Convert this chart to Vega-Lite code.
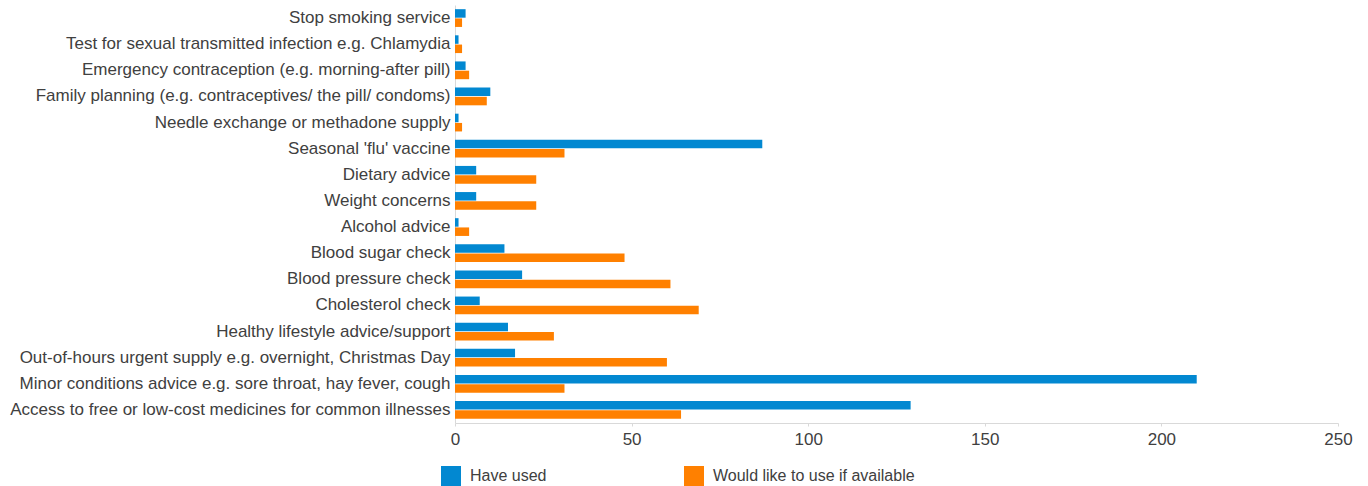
{
  "$schema": "https://vega.github.io/schema/vega-lite/v6.json",
  "width": 883,
  "height": 418,
  "autosize": {"type": "none"},
  "padding": {"left": 455, "top": 5, "right": 30, "bottom": 63},
  "background": "#ffffff",
  "config": {
    "view": {"stroke": null},
    "font": "Liberation Sans",
    "axis": {"labelFont": "Liberation Sans", "labelColor": "#404040", "labelFontSize": 17}
  },
  "data": {
    "values": [
      {"service": "Stop smoking service", "series": "Have used", "value": 3},
      {"service": "Stop smoking service", "series": "Would like to use if available", "value": 2},
      {"service": "Test for sexual transmitted infection e.g. Chlamydia", "series": "Have used", "value": 1},
      {"service": "Test for sexual transmitted infection e.g. Chlamydia", "series": "Would like to use if available", "value": 2},
      {"service": "Emergency contraception (e.g. morning-after pill)", "series": "Have used", "value": 3},
      {"service": "Emergency contraception (e.g. morning-after pill)", "series": "Would like to use if available", "value": 4},
      {"service": "Family planning (e.g. contraceptives/ the pill/ condoms)", "series": "Have used", "value": 10},
      {"service": "Family planning (e.g. contraceptives/ the pill/ condoms)", "series": "Would like to use if available", "value": 9},
      {"service": "Needle exchange or methadone supply", "series": "Have used", "value": 1},
      {"service": "Needle exchange or methadone supply", "series": "Would like to use if available", "value": 2},
      {"service": "Seasonal 'flu' vaccine", "series": "Have used", "value": 87},
      {"service": "Seasonal 'flu' vaccine", "series": "Would like to use if available", "value": 31},
      {"service": "Dietary advice", "series": "Have used", "value": 6},
      {"service": "Dietary advice", "series": "Would like to use if available", "value": 23},
      {"service": "Weight concerns", "series": "Have used", "value": 6},
      {"service": "Weight concerns", "series": "Would like to use if available", "value": 23},
      {"service": "Alcohol advice", "series": "Have used", "value": 1},
      {"service": "Alcohol advice", "series": "Would like to use if available", "value": 4},
      {"service": "Blood sugar check", "series": "Have used", "value": 14},
      {"service": "Blood sugar check", "series": "Would like to use if available", "value": 48},
      {"service": "Blood pressure check", "series": "Have used", "value": 19},
      {"service": "Blood pressure check", "series": "Would like to use if available", "value": 61},
      {"service": "Cholesterol check", "series": "Have used", "value": 7},
      {"service": "Cholesterol check", "series": "Would like to use if available", "value": 69},
      {"service": "Healthy lifestyle advice/support", "series": "Have used", "value": 15},
      {"service": "Healthy lifestyle advice/support", "series": "Would like to use if available", "value": 28},
      {"service": "Out-of-hours urgent supply e.g. overnight, Christmas Day", "series": "Have used", "value": 17},
      {"service": "Out-of-hours urgent supply e.g. overnight, Christmas Day", "series": "Would like to use if available", "value": 60},
      {"service": "Minor conditions advice e.g. sore throat, hay fever, cough", "series": "Have used", "value": 210},
      {"service": "Minor conditions advice e.g. sore throat, hay fever, cough", "series": "Would like to use if available", "value": 31},
      {"service": "Access to free or low-cost medicines for common illnesses", "series": "Have used", "value": 129},
      {"service": "Access to free or low-cost medicines for common illnesses", "series": "Would like to use if available", "value": 64}
    ]
  },
  "mark": {"type": "bar"},
  "encoding": {
    "y": {
      "field": "service",
      "type": "nominal",
      "sort": null,
      "scale": {"paddingInner": 0.32, "paddingOuter": 0.16},
      "axis": {
        "title": null,
        "ticks": false,
        "domainColor": "#d9d9d9",
        "labelPadding": 5,
        "labelLimit": 500,
        "grid": false
      }
    },
    "yOffset": {
      "field": "series",
      "type": "nominal",
      "sort": ["Have used", "Would like to use if available"],
      "scale": {"paddingInner": 0.08}
    },
    "x": {
      "field": "value",
      "type": "quantitative",
      "scale": {"domain": [0, 250]},
      "axis": {
        "title": null,
        "values": [0, 50, 100, 150, 200, 250],
        "grid": false,
        "labelFlush": false,
        "domainColor": "#d9d9d9",
        "tickColor": "#d9d9d9",
        "tickSize": 3,
        "labelPadding": 5
      }
    },
    "color": {
      "field": "series",
      "type": "nominal",
      "scale": {
        "domain": ["Have used", "Would like to use if available"],
        "range": ["#0288D1", "#FF8000"]
      },
      "legend": {
        "title": null,
        "orient": "none",
        "direction": "horizontal",
        "legendX": -14,
        "legendY": 461,
        "symbolType": "square",
        "symbolSize": 400,
        "symbolStrokeWidth": 0,
        "labelFontSize": 16,
        "labelColor": "#404040",
        "labelOffset": 9,
        "labelLimit": 400,
        "columnPadding": 137,
        "labelFont": "Liberation Sans"
      }
    }
  }
}
